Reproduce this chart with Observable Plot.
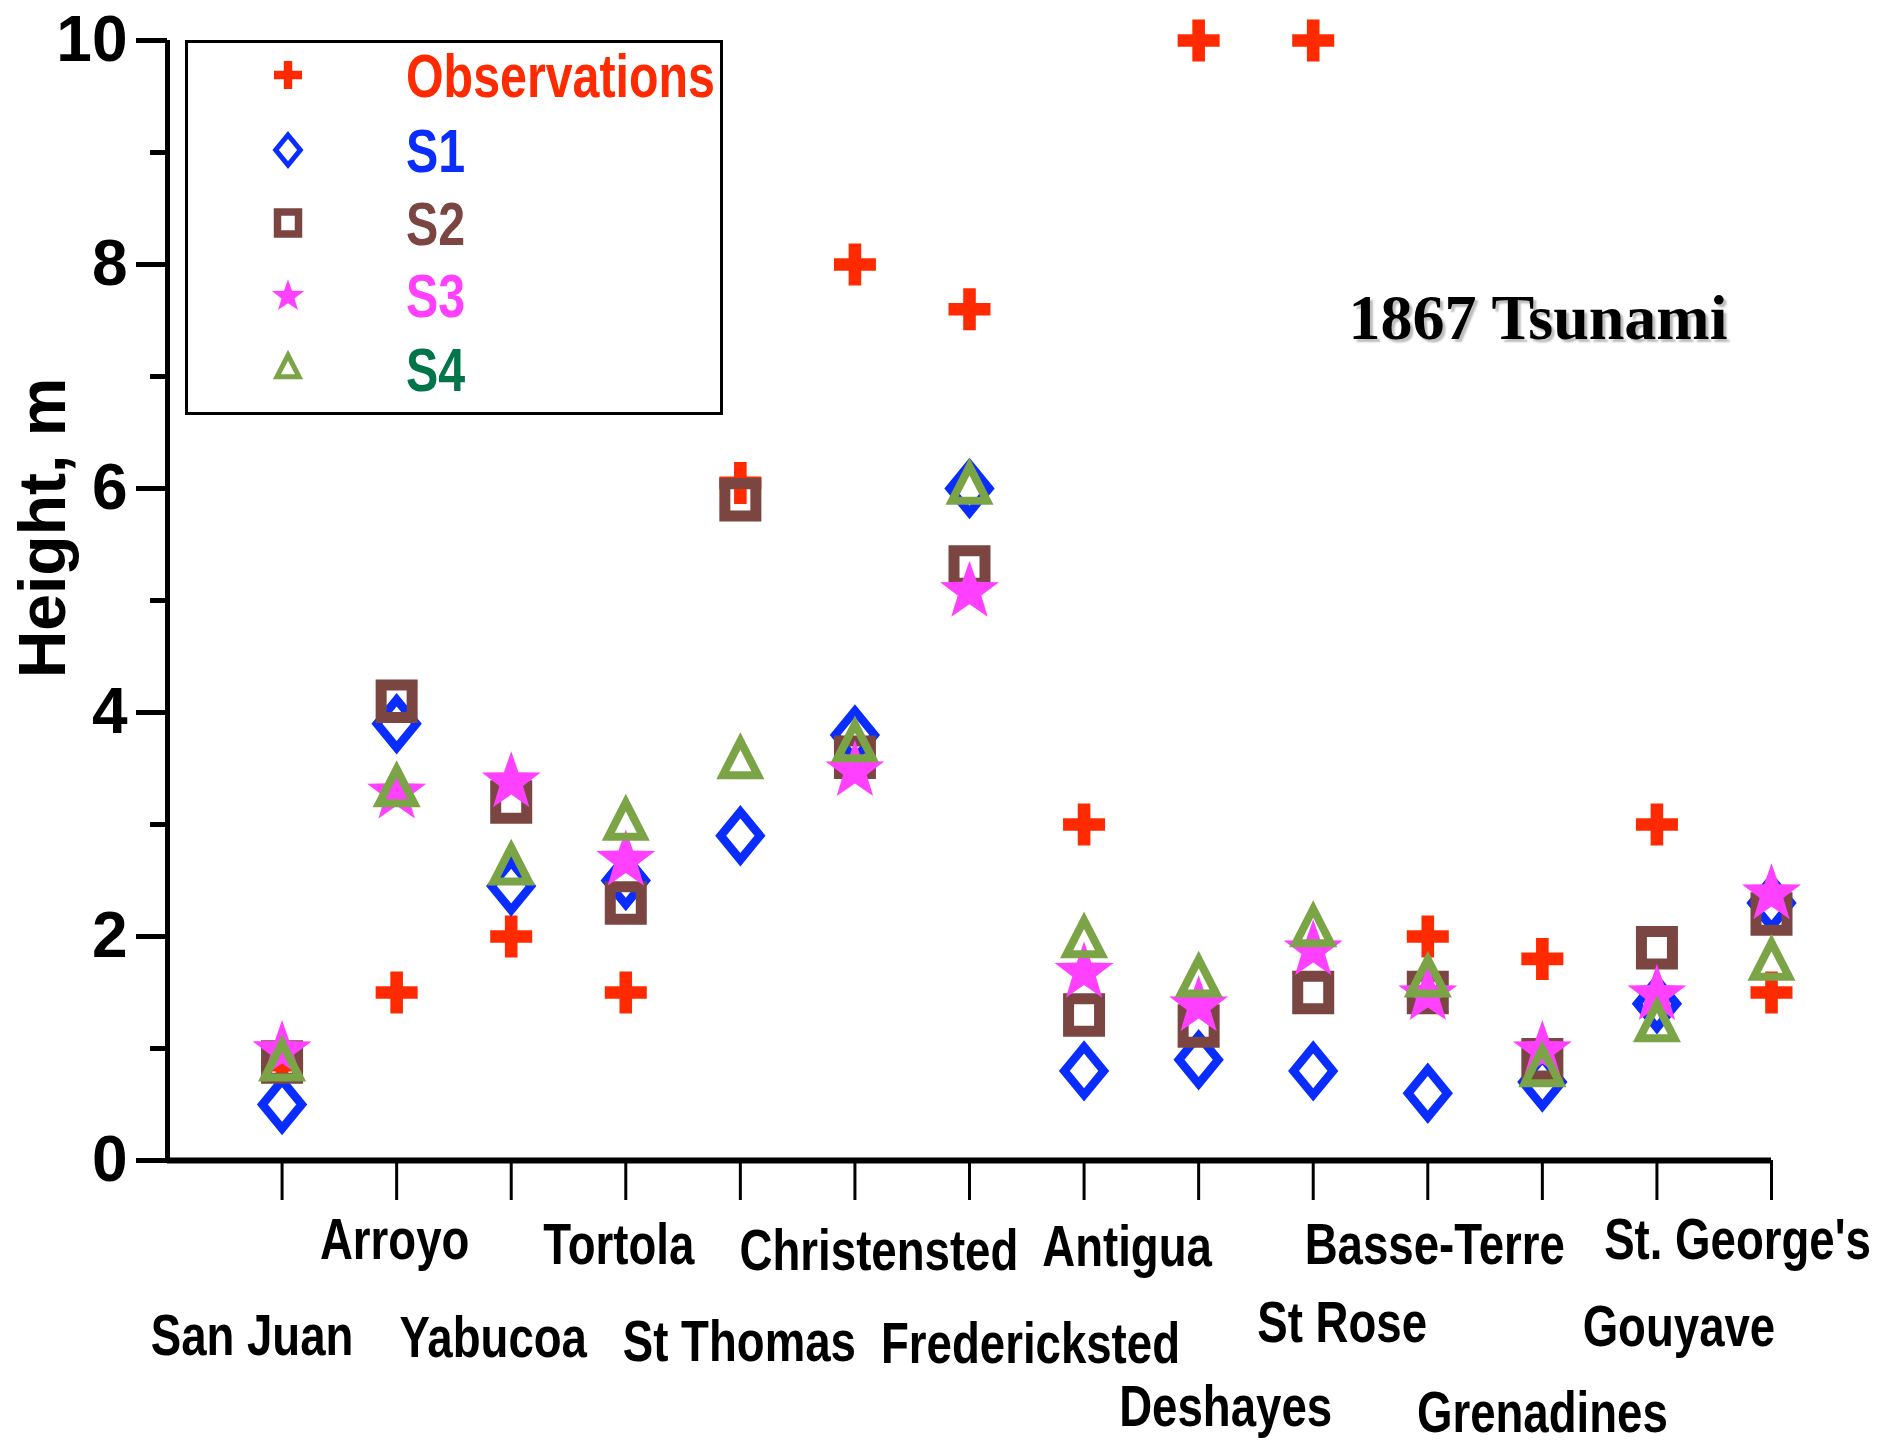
<!DOCTYPE html>
<html>
<head>
<meta charset="utf-8">
<script src="https://cdn.jsdelivr.net/npm/d3@7"></script>
<script src="https://cdn.jsdelivr.net/npm/@observablehq/plot@0.6"></script>
<style>
  html, body { margin: 0; padding: 0; background: #fff; }
  #wrap { position: relative; width: 1899px; height: 1446px; overflow: hidden; }
  #legend { position: absolute; left: 185px; top: 40px; width: 532px; height: 369px; border: 3px solid #000; background: #fff; }
  #ytitle { position: absolute; left: 42px; top: 528px; transform: translate(-50%, -50%) rotate(-90deg); font: bold 66px "Liberation Sans", Arial, sans-serif; white-space: nowrap; color: #000; }
  #note { position: absolute; left: 1538px; top: 318px; transform: translate(-50%, -50%); font: bold 64px "Liberation Serif", "Times New Roman", serif; white-space: nowrap; color: #000; text-shadow: 3px 3px 2px #bdbdbd; }
</style>
</head>
<body>
<div id="wrap"></div>
<script>
// ---------- data ----------
const categories = ["San Juan", "Arroyo", "Yabucoa", "Tortola", "St Thomas", "Christensted", "Fredericksted",
                    "Antigua", "Deshayes", "St Rose", "Basse-Terre", "Grenadines", "Gouyave", "St. George's"];
const observations = [0.85, 1.5, 2.0, 1.5, 6.05, 8.0, 7.6, 3.0, 10.0, 10.0, 2.0, 1.8, 3.0, 1.5];
const s1 = [0.5, 3.9, 2.45, 2.5, 2.9, 3.8, 6.0, 0.8, 0.9, 0.8, 0.6, 0.7, 1.4, 2.3];
const s2 = [0.88, 4.1, 3.2, 2.3, 5.9, 3.6, 5.3, 1.3, 1.2, 1.5, 1.5, 0.9, 1.9, 2.2];
const s3 = [1.0, 3.3, 3.4, 2.7, null, 3.5, 5.1, 1.7, 1.4, 1.9, 1.5, 1.0, 1.5, 2.4];
const s4 = [0.85, 3.3, 2.6, 3.0, 3.55, 3.7, 6.0, 1.95, 1.6, 2.05, 1.6, 0.8, 1.2, 1.75];
const seriesNames = ["Observations", "S1", "S2", "S3", "S4"];
const yMajorTicks = [0, 2, 4, 6, 8, 10];
const yMinorTicks = [1, 3, 5, 7, 9];
const title = "1867 Tsunami";
const yLabel = "Height, m";

// ---------- styles / layout (not data) ----------
const colors = { Observations: "#ff2a00", S1: "#0a2dff", S2: "#7b4541", S3: "#ff40ff", S4: "#7ba446" };
const legendTextColors = { Observations: "#ff2a00", S1: "#0a2dff", S2: "#7b4541", S3: "#ff40ff", S4: "#00754a" };
// label nudges [dx, dy] in pixels relative to each category tick
const labelNudge = [[-30,176],[-2,80],[-18,178],[-7,85],[-1,182],[24,91],[61,184],
                    [43,87],[27,247],[29,163],[7,85],[0,253],[22,167],[-34,80]];
const condense = 0.8;

// ---------- custom symbols ----------
const plusSym = { draw(ctx, size) { const r = Math.sqrt(size / Math.PI), t = r * 0.3;
  ctx.moveTo(-t, -r); ctx.lineTo(t, -r); ctx.lineTo(t, -t); ctx.lineTo(r, -t); ctx.lineTo(r, t); ctx.lineTo(t, t);
  ctx.lineTo(t, r); ctx.lineTo(-t, r); ctx.lineTo(-t, t); ctx.lineTo(-r, t); ctx.lineTo(-r, -t); ctx.lineTo(-t, -t); ctx.closePath(); } };
const diamondSym = { draw(ctx, size) { const r = Math.sqrt(size / Math.PI), w = r * 0.82;
  ctx.moveTo(0, -r); ctx.lineTo(w, 0); ctx.lineTo(0, r); ctx.lineTo(-w, 0); ctx.closePath(); } };
const squareSym = { draw(ctx, size) { const r = Math.sqrt(size / Math.PI);
  ctx.moveTo(-r, -r * 1.05); ctx.lineTo(r, -r * 1.05); ctx.lineTo(r, r * 1.05); ctx.lineTo(-r, r * 1.05); ctx.closePath(); } };
const starSym = { draw(ctx, size) { const R = Math.sqrt(size / Math.PI), ri = R * 0.4;
  for (let k = 0; k < 10; k++) { const a = -Math.PI / 2 + k * Math.PI / 5, rr = k % 2 ? ri : R;
    const x = rr * Math.cos(a), y = rr * Math.sin(a) + R * 0.08; if (k === 0) ctx.moveTo(x, y); else ctx.lineTo(x, y); }
  ctx.closePath(); } };
const triSym = { draw(ctx, size) { const r = Math.sqrt(size / Math.PI);
  ctx.moveTo(0, -r * 1.25); ctx.lineTo(r, r * 0.7); ctx.lineTo(-r, r * 0.7); ctx.closePath(); } };

const symbolSpec = {
  Observations: { sym: plusSym, r: 21, fill: colors.Observations, stroke: "none", sw: 0 },
  S1: { sym: diamondSym, r: 24, fill: "none", stroke: colors.S1, sw: 8.5 },
  S2: { sym: squareSym, r: 15.5, fill: "none", stroke: colors.S2, sw: 11 },
  S3: { sym: starSym, r: 31, fill: colors.S3, stroke: "none", sw: 0 },
  S4: { sym: triSym, r: 17.5, fill: "none", stroke: colors.S4, sw: 8 }
};
const legendSpec = {
  Observations: { r: 14, sw: 0 }, S1: { r: 15, sw: 5 }, S2: { r: 10.5, sw: 7.5 }, S3: { r: 17, sw: 0 }, S4: { r: 11, sw: 5 }
};

const seriesValues = { Observations: observations, S1: s1, S2: s2, S3: s3, S4: s4 };
function rows(name) {
  return categories.map((c, i) => ({ cat: c, pos: i + 1, v: seriesValues[name][i] })).filter(d => d.v != null);
}

const W = 1899, H = 1446;
const boldSans = "'Liberation Sans', Arial, sans-serif";

const marks = [];
// axes
marks.push(Plot.axisY({ ticks: yMinorTicks, tickSize: 17, tickFormat: () => "", strokeWidth: 5, label: null }));
marks.push(Plot.axisY({ ticks: yMajorTicks, tickSize: 31, tickPadding: 9, tickFormat: d => String(d), strokeWidth: 5,
  fontSize: 64, fontWeight: "bold", label: null }));
marks.push(Plot.axisX({ ticks: d3.range(1, categories.length + 1), tickSize: 40, tickFormat: () => "", strokeWidth: 3, label: null }));
marks.push(Plot.ruleX([0], { stroke: "#000", strokeWidth: 5 }));
marks.push(Plot.ruleY([0], { stroke: "#000", strokeWidth: 6 }));
// category labels
categories.forEach((c, i) => {
  marks.push(Plot.text([c], { x: () => i + 1, y: () => 0, text: d => d, dx: labelNudge[i][0], dy: labelNudge[i][1],
    fontSize: 57, fontWeight: "bold", fontFamily: boldSans, fill: "#000", textAnchor: "middle", lineAnchor: "middle",
    className: "catlabel" }));
});
// data series
for (const name of seriesNames) {
  const s = symbolSpec[name];
  marks.push(Plot.dot(rows(name), { x: "pos", y: "v", symbol: () => s.sym, r: s.r, fill: s.fill, stroke: s.stroke,
    strokeWidth: s.sw, strokeLinejoin: "miter", strokeMiterlimit: 10 }));
}

const chart = Plot.plot({
  width: W, height: H,
  marginLeft: 167, marginRight: 128, marginTop: 40, marginBottom: 286,
  x: { type: "linear", domain: [0, categories.length], axis: null },
  y: { type: "linear", domain: [0, 10], axis: null },
  symbol: { type: "identity" },
  style: { fontFamily: boldSans, color: "#000", background: "#fff", overflow: "visible" },
  marks
});

// condense the category labels horizontally (narrow bold face look)
chart.querySelectorAll("g.catlabel text").forEach(t => {
  const tr = t.getAttribute("transform") || "";
  t.setAttribute("transform", `${tr} scale(${condense},1)`);
});

const wrap = document.getElementById("wrap");
wrap.appendChild(chart);

// legend box
const legend = document.createElement("div");
legend.id = "legend";
wrap.appendChild(legend);
const lsvg = d3.select(legend).append("svg").attr("width", 532).attr("height", 369);
const rowY = [32, 107, 180, 252, 326];
seriesNames.forEach((name, k) => {
  const s = symbolSpec[name], L = legendSpec[name];
  const p = d3.path();
  s.sym.draw(p, Math.PI * L.r * L.r);
  lsvg.append("path").attr("d", p.toString()).attr("transform", `translate(100,${rowY[k]})`)
    .attr("fill", s.fill).attr("stroke", s.stroke).attr("stroke-width", L.sw).attr("stroke-linejoin", "miter");
  lsvg.append("text").attr("transform", `translate(218,${rowY[k]}) scale(0.78,1)`).attr("dy", "0.36em")
    .attr("font-family", boldSans).attr("font-weight", "bold").attr("font-size", 62)
    .attr("fill", legendTextColors[name]).text(name);
});

// y title and annotation
const yt = document.createElement("div"); yt.id = "ytitle"; yt.textContent = yLabel; wrap.appendChild(yt);
const note = document.createElement("div"); note.id = "note"; note.textContent = title; wrap.appendChild(note);
</script>
</body>
</html>
